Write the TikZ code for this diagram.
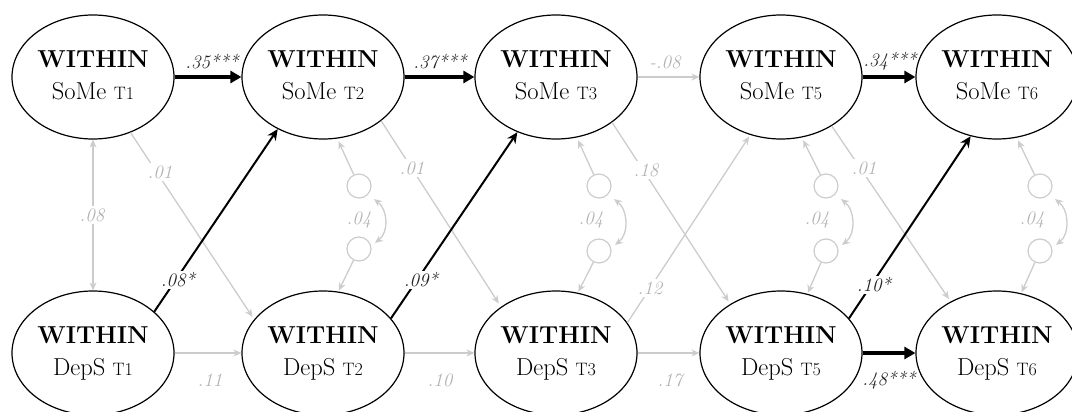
\documentclass[tikz,border=0pt]{standalone}
\usepackage{fontspec}
\usetikzlibrary{shapes.geometric,arrows.meta,calc}
\definecolor{lg}{RGB}{204,204,204}
\definecolor{lgt}{RGB}{178,178,178}
\definecolor{dk}{RGB}{35,35,35}
\newcommand{\tme}[1]{{\fontsize{18}{18}\selectfont #1}}
\begin{document}
\begin{tikzpicture}[x=1pt,y=-1pt,
  lat/.style={ellipse, draw, line width=1.2pt, minimum width=162pt, minimum height=124pt, inner sep=0pt, align=center, font=\fontsize{24.5}{32}\selectfont},
  res/.style={circle, draw=lg, line width=1.2pt, minimum size=24pt, inner sep=0pt},
  gpath/.style={draw=lg, line width=1.3pt, -{Stealth[length=8pt,width=7pt]}},
  gcov/.style={draw=lg, line width=1.3pt, {Stealth[length=8pt,width=7pt]}-{Stealth[length=8pt,width=7pt]}},
  bthick/.style={draw=black, line width=3.5pt, -{Triangle[length=11pt,width=12pt]}},
  bpath/.style={draw=black, line width=2pt, -{Stealth[length=11pt,width=10pt]}},
  glab/.style={text=lgt, font=\fontsize{19}{19}\selectfont\itshape, inner sep=2pt},
  glabw/.style={glab, fill=white},
  blab/.style={text=dk, font=\fontsize{19}{19}\selectfont\itshape, inner sep=2pt},
  blabw/.style={blab, fill=white}
]
\useasboundingbox (0,0) rectangle (1072,412);
% latent ellipses
\node[lat] (S1) at (93,77)  {\textbf{WITHIN}\\SoMe \tme{T1}\vphantom{p}};
\node[lat] (S2) at (323,77) {\textbf{WITHIN}\\SoMe \tme{T2}\vphantom{p}};
\node[lat] (S3) at (556,77) {\textbf{WITHIN}\\SoMe \tme{T3}\vphantom{p}};
\node[lat] (S5) at (781,77) {\textbf{WITHIN}\\SoMe \tme{T5}\vphantom{p}};
\node[lat] (S6) at (997,77) {\textbf{WITHIN}\\SoMe \tme{T6}\vphantom{p}};
\node[lat] (D1) at (93,353)  {\textbf{WITHIN}\\DepS \tme{T1}};
\node[lat] (D2) at (323,353) {\textbf{WITHIN}\\DepS \tme{T2}};
\node[lat] (D3) at (556,353) {\textbf{WITHIN}\\DepS \tme{T3}};
\node[lat] (D5) at (781,353) {\textbf{WITHIN}\\DepS \tme{T5}};
\node[lat] (D6) at (997,353) {\textbf{WITHIN}\\DepS \tme{T6}};
% residual circles
\node[res] (r2a) at (359,186) {};
\node[res] (r2b) at (359,249) {};
\node[res] (r3a) at (599,186) {};
\node[res] (r3b) at (599,251) {};
\node[res] (r5a) at (826,186) {};
\node[res] (r5b) at (826,251) {};
\node[res] (r6a) at (1040,186) {};
\node[res] (r6b) at (1040,251) {};
% gray paths
\draw[gpath] (S3.east) -- (S5.west);
\draw[gpath] (D1.east) -- (D2.west);
\draw[gpath] (D2.east) -- (D3.west);
\draw[gpath] (D3.east) -- (D5.west);
\draw[gpath, shorten >=3pt] (S1.-56) -- (D2.154);
\draw[gpath, shorten >=4pt] (S2.-37) -- (D3.140);
\draw[gpath, shorten >=3pt] (S3.-39) -- (D5.136);
\draw[gpath, shorten >=3pt] (S5.-44) -- (D6.132);
\draw[gpath, shorten >=2pt] (D3.23) -- (S5.242);
\draw[gcov] (S1.south) -- (D1.north);
% residual arrows
\draw[gpath, shorten >=3pt] (r2a) -- (S2.-77);
\draw[gpath, shorten >=1pt] (r2b) -- (D2.76);
\draw[gpath, shorten >=3pt] (r3a) -- (S3.-71);
\draw[gpath, shorten >=1pt] (r3b) -- (D3.70);
\draw[gpath, shorten >=3pt] (r5a) -- (S5.-71);
\draw[gpath, shorten >=1pt] (r5b) -- (D5.66);
\draw[gpath, shorten >=3pt] (r6a) -- (S6.-72);
\draw[gpath, shorten >=1pt] (r6b) -- (D6.68);
% residual covariances
\draw[gcov] ($(r2a)+(15,13)$) .. controls +(14,11) and +(14,-11) .. ($(r2b)+(16,-6)$);
\draw[gcov] ($(r3a)+(15,13)$) .. controls +(14,11) and +(14,-11) .. ($(r3b)+(16,-6)$);
\draw[gcov] ($(r5a)+(15,13)$) .. controls +(14,11) and +(14,-11) .. ($(r5b)+(16,-6)$);
\draw[gcov] ($(r6a)+(15,13)$) .. controls +(14,11) and +(14,-11) .. ($(r6b)+(16,-6)$);
% black paths
\draw[bthick] (S1.east) -- (S2.west);
\draw[bthick] (S2.east) -- (S3.west);
\draw[bthick] (S5.east) -- (S6.west);
\draw[bthick] (D5.east) -- (D6.west);
\draw[bpath] (D1.34) -- (S2.229);
\draw[bpath] (D2.27) -- (S3.235);
\draw[bpath] (D5.27) -- (S6.246);
% labels
\node[blab] (l1) at (212,62) {.35***};
\node[blab] (l2) at (440,62) {.37***};
\node[glab] (l3) at (665,62) {-.08};
\node[blab] (l4) at (890,61) {.34***};
\node[glab] (l5) at (210,380) {.11};
\node[glab] (l6) at (440,380) {.10};
\node[glab] (l7) at (670,380) {.17};
\node[blab] (l8) at (889,380) {.48***};
\node[glabw] (l9) at (92,215) {.08};
\node[glabw] (l10) at (160,172) {.01};
\node[glabw] (l11) at (412,168) {.01};
\node[glabw] (l12) at (646,170) {.18};
\node[glabw] (l13) at (864,168) {.01};
\node[glabw] (l14) at (650,288) {.12};
\node[blabw] (l15) at (178,280) {.08*};
\node[blabw] (l16) at (421,280) {.09*};
\node[blabw] (l17) at (874,285) {.10*};
\node[glab] (l18) at (359,220) {.04};
\node[glab] (l19) at (591,220) {.04};
\node[glab] (l20) at (817,220) {.04};
\node[glab] (l21) at (1032,220) {.04};
\end{tikzpicture}
\end{document}
